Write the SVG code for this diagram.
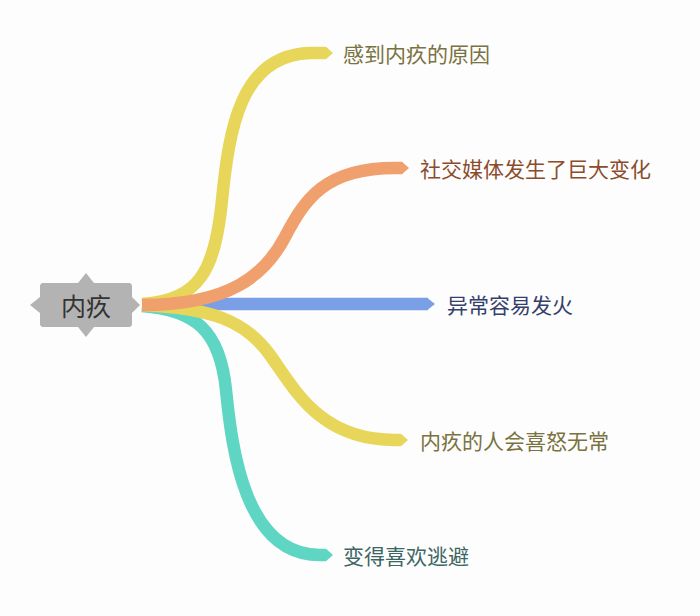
<svg xmlns="http://www.w3.org/2000/svg" width="700" height="616" viewBox="0 0 700 616">
<style>
.br{fill:none;stroke-width:12.5;stroke-linecap:butt;stroke-linejoin:round}
.lbl{font-family:"Noto Sans CJK SC","Noto Sans",sans-serif;font-size:21px;dominant-baseline:central}
</style>
<rect width="700" height="616" fill="#fdfdfd"/>
<g id="connectors">
  <g id="c3">
    <path class="br" stroke="#7a9fe6" stroke-width="11" d="M150,304 L428,304"/>
    <polygon fill="#7a9fe6" points="428,298.5 435,304 428,309.5"/>
  </g>
  <g id="c5">
    <path class="br" stroke="#5ed6c3" d="M142,306 C195,310 220,330 226,390 S245,555 320,555 L326,555"/>
    <polygon fill="#5ed6c3" points="326,548.8 333,555 326,561.2"/>
  </g>
  <g id="c4">
    <path class="br" stroke="#e8d65a" d="M142,305 C210,308 245,320 270,355 S320,440 395,440 L401,440"/>
    <polygon fill="#e8d65a" points="401,433.8 408,440 401,446.2"/>
  </g>
  <g id="c1">
    <path class="br" stroke="#e8d65a" d="M142,304 C200,300 215,270 222,200 S240,55 310,53 L326,53"/>
    <polygon fill="#e8d65a" points="326,46.8 333,53 326,59.2"/>
  </g>
  <g id="c2">
    <path class="br" stroke="#f0a06c" d="M142,305 C230,305 265,275 285,237 S325,168 395,168 L402,168"/>
    <polygon fill="#f0a06c" points="402,161.8 409,168 402,174.2"/>
  </g>
</g>
<g id="root">
  <polygon fill="#b3b3b3" points="42,283 78,283 86,273 94,283 130,283 132,285 132,297 140,305 132,313 132,325 130,327 94,327 86,337 78,327 42,327 40,325 40,313 30,305 40,297 40,285"/>
  <text x="86" y="305" text-anchor="middle" font-family="Noto Sans CJK SC, Noto Sans, sans-serif" font-size="25" fill="#333333" dominant-baseline="central">内疚</text>
</g>
<g id="n1"><text class="lbl" x="343" y="53" fill="#7a7240">感到内疚的原因</text></g>
<g id="n2"><text class="lbl" x="420" y="168" fill="#8b4c2c">社交媒体发生了巨大变化</text></g>
<g id="n3"><text class="lbl" x="447" y="304" fill="#34406b">异常容易发火</text></g>
<g id="n4"><text class="lbl" x="420" y="440" fill="#7a7240">内疚的人会喜怒无常</text></g>
<g id="n5"><text class="lbl" x="343" y="555" fill="#3c6663">变得喜欢逃避</text></g>
</svg>
